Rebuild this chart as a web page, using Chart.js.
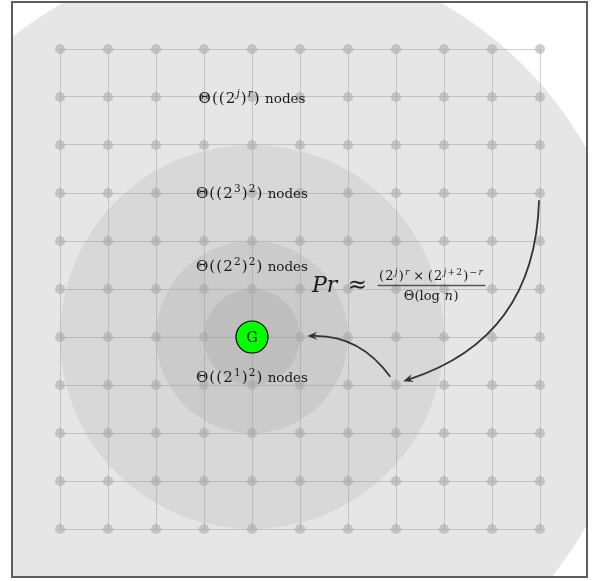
<!DOCTYPE html>
<html>
<head>
<meta charset="utf-8">
<script src="https://cdn.jsdelivr.net/npm/chart.js@4.4.1/dist/chart.umd.min.js"></script>
<style>
html, body { margin: 0; padding: 0; background: #fff; }
#frame { position: absolute; left: 11px; top: 1px; width: 577px; height: 577px; box-sizing: border-box; border: 2px solid #5e5e5e; overflow: hidden; }
#frame canvas { display: block; }
</style>
</head>
<body>
<div id="frame"><canvas id="net" width="573" height="573"></canvas></div>
<script>
// lattice nodes (grid units)
const gridX = [0, 1, 2, 3, 4, 5, 6, 7, 8, 9, 10];
const gridY = [0, 1, 2, 3, 4, 5, 6, 7, 8, 9, 10];

// node G and the rings around it (radius in grid units)
const nodeG = { x: 4, y: 4 };
const ringRadii = [8, 4, 2, 1];
const ringColors = ['#e6e6e6', '#d8d8d8', '#cbcbcb', '#bebebe'];

// ring labels, parts: [text, kind]
// kind: '' math upright, 'i' math italic, 's' superscript, 'si' italic superscript, 'op' binary op, 't' plain text
const ringLabels = [
    [['Θ((2'], ['j', 'si'], [')'], ['r', 'si'], [')'], [' nodes', 't']],
    [['Θ((2'], ['3', 's'], [')'], ['2', 's'], [')'], [' nodes', 't']],
    [['Θ((2'], ['2', 's'], [')'], ['2', 's'], [')'], [' nodes', 't']],
    [['Θ((2'], ['1', 's'], [')'], ['2', 's'], [')'], [' nodes', 't']]
];
const ringLabelY = [8.875, 6.9, 5.375, 3.06];

// arrows: start, control, end (grid units)
const arrows = [
    [{ x: 9.98, y: 6.85 }, { x: 9.9, y: 3.97 }, { x: 7.15, y: 3.08 }],
    [{ x: 6.88, y: 3.17 }, { x: 6.25, y: 4.04 }, { x: 5.15, y: 4.02 }]
];

// Pr formula
const prAt = { x: 5.25, y: 4.9375 };
const approxAt = { x: 6.198, y: 4.9375 };
const fracAt = { x: 7.74, y: 5.073 };
const numerator = [['(2'], ['j', 'si'], [')'], ['r', 'si'], ['×', 'op'], ['(2'], ['j', 'si'], ['+2', 's'], [')'], ['−', 's'], ['r', 'si']];
const denominator = [['Θ(log', 't'], [' '], ['n', 'i'], [')']];

const SERIF = '"DejaVu Serif", "Liberation Serif", serif';

function fontFor(kind, size, textSize) {
    if (kind === 't') return textSize + 'px ' + SERIF;
    const sup = kind.indexOf('s') === 0;
    const italic = kind.indexOf('i') >= 0;
    return (italic ? 'italic ' : '') + (sup ? size * 0.7 : size) + 'px ' + SERIF;
}

// walks the parts, calling fn(char, x, dy) for each glyph; returns total width
function layoutMath(ctx, parts, size, gap, textSize, fn) {
    let cur = 0;
    parts.forEach(p => {
        const kind = p[1] || '';
        ctx.font = fontFor(kind, size, textSize);
        const dy = kind.indexOf('s') === 0 ? -size * 0.42 : 0;
        if (kind === 't') {
            if (fn) fn(p[0], cur, dy);
            cur += ctx.measureText(p[0]).width;
            return;
        }
        const pad = kind === 'op' ? 2.5 : 0;
        cur += pad;
        for (const ch of p[0]) {
            if (fn) fn(ch, cur, dy);
            cur += ctx.measureText(ch).width + gap;
        }
        cur += pad;
    });
    return cur;
}

function drawMath(ctx, parts, x, y, size, gap, align, textSize) {
    const ts = textSize || size;
    const w = layoutMath(ctx, parts, size, gap, ts, null);
    const x0 = align === 'center' ? x - w / 2 : x;
    ctx.textAlign = 'left';
    ctx.textBaseline = 'alphabetic';
    layoutMath(ctx, parts, size, gap, ts, (ch, cx, dy) => ctx.fillText(ch, x0 + cx, y + dy));
    return w;
}

function drawArrow(ctx, p0, c, p2) {
    let dx = p2.x - c.x, dy = p2.y - c.y;
    const len = Math.hypot(dx, dy);
    dx /= len; dy /= len;
    const L = 10, W = 4;
    ctx.strokeStyle = '#333';
    ctx.fillStyle = '#333';
    ctx.lineWidth = 1.8;
    ctx.beginPath();
    ctx.moveTo(p0.x, p0.y);
    ctx.quadraticCurveTo(c.x, c.y, p2.x - dx * 6, p2.y - dy * 6);
    ctx.stroke();
    ctx.beginPath();
    ctx.moveTo(p2.x, p2.y);
    ctx.lineTo(p2.x - dx * L - dy * W, p2.y - dy * L + dx * W);
    ctx.lineTo(p2.x - dx * L * 0.65, p2.y - dy * L * 0.65);
    ctx.lineTo(p2.x - dx * L + dy * W, p2.y - dy * L - dx * W);
    ctx.closePath();
    ctx.fill();
}

const diagramPlugin = {
    id: 'diagram',
    beforeDraw(chart) {
        const { ctx, scales: { x, y } } = chart;
        const cx = x.getPixelForValue(nodeG.x), cy = y.getPixelForValue(nodeG.y);
        const unit = x.getPixelForValue(1) - x.getPixelForValue(0);
        ctx.save();
        ringRadii.forEach((r, i) => {
            ctx.fillStyle = ringColors[i];
            ctx.beginPath();
            ctx.arc(cx, cy, r * unit, 0, Math.PI * 2);
            ctx.fill();
        });
        ctx.restore();
    },
    afterDraw(chart) {
        const { ctx, scales: { x, y } } = chart;
        const px = p => ({ x: x.getPixelForValue(p.x), y: y.getPixelForValue(p.y) });
        ctx.save();
        arrows.forEach(a => drawArrow(ctx, px(a[0]), px(a[1]), px(a[2])));

        // node G
        const g = px(nodeG);
        ctx.fillStyle = '#00ff00';
        ctx.strokeStyle = '#000';
        ctx.lineWidth = 1.2;
        ctx.beginPath();
        ctx.arc(g.x, g.y, 16, 0, Math.PI * 2);
        ctx.fill();
        ctx.stroke();
        ctx.fillStyle = '#111';
        ctx.font = '14px ' + SERIF;
        ctx.textAlign = 'center';
        ctx.textBaseline = 'middle';
        ctx.fillText('G', g.x, g.y + 1);

        // ring labels
        ctx.fillStyle = '#1a1a1a';
        ringLabels.forEach((parts, i) => {
            drawMath(ctx, parts, g.x, y.getPixelForValue(ringLabelY[i]), 15, 1.1, 'center', 13.5);
        });

        // Pr formula
        const pr = px(prAt), ap = px(approxAt), fr = px(fracAt);
        drawMath(ctx, [['Pr', 'i']], pr.x, pr.y, 22, 0, 'left');
        drawMath(ctx, [['≈']], ap.x, ap.y, 23, 0, 'center');
        const numW = drawMath(ctx, numerator, fr.x, fr.y - 5, 13, 1.2, 'center');
        const denW = drawMath(ctx, denominator, fr.x, fr.y + 15, 13, 0.6, 'center');
        const barW = Math.max(numW, denW) + 3;
        ctx.strokeStyle = '#555';
        ctx.lineWidth = 1.6;
        ctx.beginPath();
        ctx.moveTo(fr.x - barW / 2, fr.y);
        ctx.lineTo(fr.x + barW / 2, fr.y);
        ctx.stroke();
        ctx.restore();
    }
};

const nodes = gridX.flatMap(gx => gridY.map(gy => ({ x: gx, y: gy })));

new Chart(document.getElementById('net'), {
    type: 'scatter',
    data: {
        datasets: [{
            data: nodes,
            pointRadius: 5,
            pointHoverRadius: 5,
            pointBackgroundColor: 'rgba(165,165,165,0.55)',
            pointBorderWidth: 0,
            clip: false
        }]
    },
    options: {
        responsive: false,
        devicePixelRatio: 1,
        animation: false,
        events: [],
        layout: { padding: { left: 47, right: 46, top: 46, bottom: 47 } },
        scales: {
            x: {
                type: 'linear', min: 0, max: 10,
                ticks: { display: false, stepSize: 1 },
                grid: { color: 'rgba(150,150,150,0.45)', lineWidth: 1, drawTicks: false },
                border: { display: false }
            },
            y: {
                type: 'linear', min: 0, max: 10,
                ticks: { display: false, stepSize: 1 },
                grid: { color: 'rgba(150,150,150,0.45)', lineWidth: 1, drawTicks: false },
                border: { display: false }
            }
        },
        plugins: { legend: { display: false }, tooltip: { enabled: false } }
    },
    plugins: [diagramPlugin]
});
</script>
</body>
</html>
